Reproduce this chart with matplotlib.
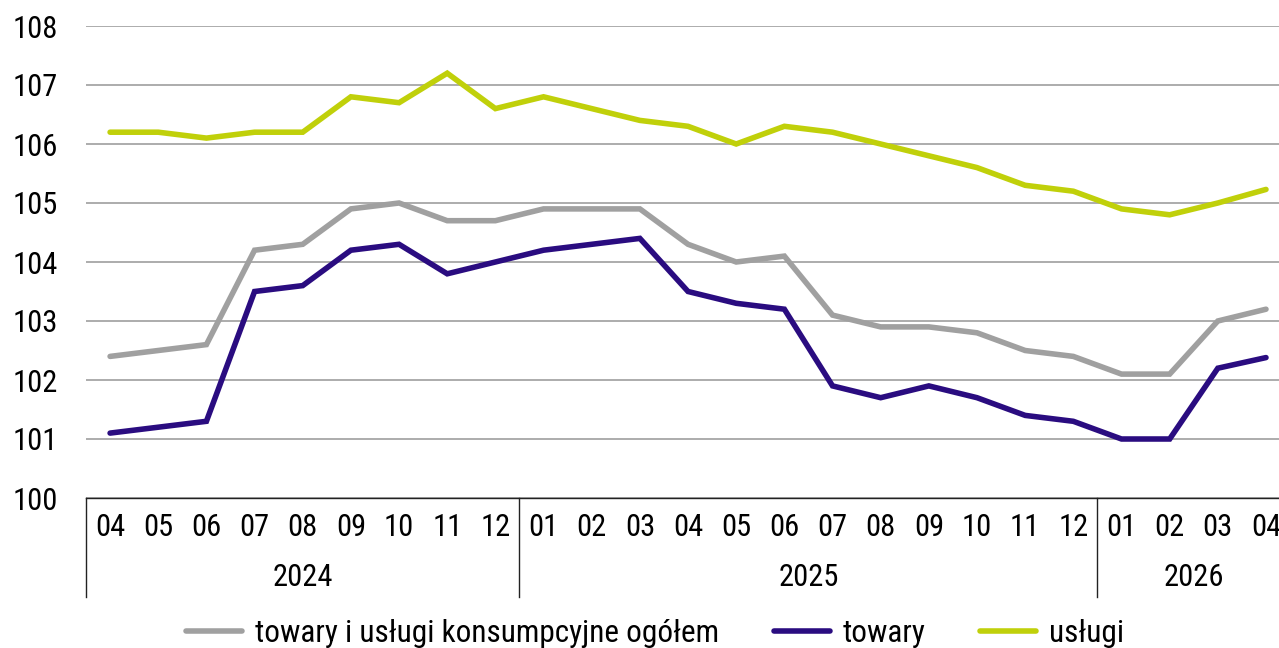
import matplotlib
matplotlib.use("Agg")
import matplotlib.pyplot as plt
import matplotlib.transforms as mtransforms
from matplotlib import font_manager as fm
import numpy as np

# Narrow font if available, otherwise Roboto
installed = {f.name for f in fm.fontManager.ttflist}
FONT, FS = "Roboto", 20
for name in ["Roboto Condensed", "Liberation Sans Narrow", "Open Sans Condensed", "Noto Sans Condensed"]:
    if name in installed:
        FONT, FS = name, 22
        break
plt.rcParams['font.family'] = [FONT, 'DejaVu Sans']

# Data
MONTHS = ["04", "05", "06", "07", "08", "09", "10", "11", "12",
          "01", "02", "03", "04", "05", "06", "07", "08", "09", "10", "11", "12",
          "01", "02", "03", "04"]
YEARS = ["2024", "2025", "2026"]
YEAR_COUNTS = [9, 12, 4]

total = [102.4, 102.5, 102.6, 104.2, 104.3, 104.9, 105.0, 104.7, 104.7,
         104.9, 104.9, 104.9, 104.3, 104.0, 104.1, 103.1, 102.9, 102.9, 102.8, 102.5, 102.4,
         102.1, 102.1, 103.0, 103.2]
goods = [101.1, 101.2, 101.3, 103.5, 103.6, 104.2, 104.3, 103.8, 104.0,
         104.2, 104.3, 104.4, 103.5, 103.3, 103.2, 101.9, 101.7, 101.9, 101.7, 101.4, 101.3,
         101.0, 101.0, 102.2, 102.38]
services = [106.2, 106.2, 106.1, 106.2, 106.2, 106.8, 106.7, 107.2, 106.6,
            106.8, 106.6, 106.4, 106.3, 106.0, 106.3, 106.2, 106.0, 105.8, 105.6, 105.3, 105.2,
            104.9, 104.8, 105.0, 105.23]

LABELS = ["towary i usługi konsumpcyjne ogółem", "towary", "usługi"]
COLORS = ["#a0a0a0", "#2a0c80", "#c0d00a"]

W, H = 1279, 648
fig = plt.figure(figsize=(W / 100, H / 100), dpi=100)
ax = fig.add_axes([86 / W, (H - 498) / H, (1279 - 86) / W, (498 - 26) / H])

x = np.arange(len(MONTHS))
for series, lab, col in zip([total, goods, services], LABELS, COLORS):
    ax.plot(x, series, color=col, lw=4.0, label=lab, solid_capstyle="round",
            solid_joinstyle="miter", zorder=3)

ax.set_ylim(100, 108)
ax.set_xlim(-0.5, 24.27)
ax.set_yticks(range(100, 109))
ax.yaxis.grid(True, color="#a6a6a6", lw=1.3)
ax.set_axisbelow(True)
ax.set_xticks([])
for s in ["top", "right", "left"]:
    ax.spines[s].set_visible(False)
ax.spines["bottom"].set_color("#222222")
ax.spines["bottom"].set_linewidth(1.0)
ax.tick_params(axis="y", length=0, labelsize=FS, pad=20)

# Two-level category axis
trans = mtransforms.blended_transform_factory(ax.transData, ax.transAxes)
px = 1 / (498 - 26)
for i, m in enumerate(MONTHS):
    ax.text(i, -29 * px, m, transform=trans, ha="center", va="center", fontsize=FS)

start = 0
bounds = [-0.5]
for yr, n in zip(YEARS, YEAR_COUNTS):
    mid = start + (n - 1) / 2
    ax.text(mid, -79 * px, yr, transform=trans, ha="center", va="center", fontsize=FS)
    start += n
    bounds.append(start - 0.5)
for b in bounds[:-1]:
    ax.plot([b, b], [0, -99 * px], transform=trans, color="#222222", lw=1.0, clip_on=False)

fig.legend(loc="center", bbox_to_anchor=(0.512, 1 - 633 / H), ncol=3, frameon=False,
           fontsize=FS + 0.5, handlelength=1.8, columnspacing=1.75, handletextpad=0.4)

fig.savefig("out.png", dpi=100)
